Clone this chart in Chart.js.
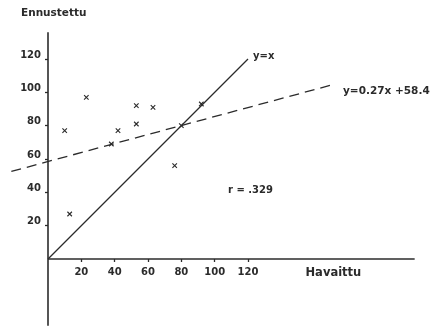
<!DOCTYPE html>
<html>
<head>
<meta charset="utf-8">
<script src="https://cdn.jsdelivr.net/npm/chart.js@4/dist/chart.umd.min.js"></script>
<style>
  html, body { margin: 0; padding: 0; background: #ffffff; }
  #wrap { width: 430px; height: 328px; position: relative; }
</style>
</head>
<body>
<div id="wrap"><canvas id="c" width="430" height="328"></canvas></div>
<script>
// ---- data ----
const havaittu   = [10, 23, 38, 42, 53, 53, 63, 80, 92, 13, 76];   // observed (x)
const ennustettu = [77, 97, 69, 77, 81, 92, 91, 80, 93, 27, 56];   // predicted (y)
const identityX  = [0, 120];                 // y = x line
const regSlope = 0.27, regIntercept = 58.48; // y = 0.27x + 58.48
const regX       = [-22, 170];
const xTicks     = [20, 40, 60, 80, 100, 120];
const yTicks     = [20, 40, 60, 80, 100, 120];
const xAxisExtent = [0, 220];
const yAxisExtent = [-40, 136];

const INK = '#2b2b2b';
const FONT = '"DejaVu Sans", sans-serif';

const points = havaittu.map((x, i) => ({ x: x, y: ennustettu[i] }));
const identity = identityX.map(x => ({ x: x, y: x }));
const reg = regX.map(x => ({ x: x, y: regSlope * x + regIntercept }));
const xAxisLine = xAxisExtent.map(x => ({ x: x, y: 0 }));
const yAxisLine = yAxisExtent.map(y => ({ x: 0, y: y }));

// annotations (text, anchored in data coordinates)
const notes = [
  { text: 'Ennustettu', x: -16.2, y: 147.6, size: 10.5 },
  { text: 'Havaittu', x: 154.5, y: -8.4, size: 11.5 },
  { text: 'y=x', x: 123, y: 121.5, size: 10 },
  { text: 'y=0.27x +58.48', x: 177, y: 100.8, size: 10.5 },
  { text: 'r = .329', x: 108, y: 41.4, size: 10 }
];

const notesPlugin = {
  id: 'notes',
  afterDatasetsDraw(chart) {
    const { ctx, scales } = chart;
    ctx.save();
    ctx.fillStyle = INK;
    ctx.textAlign = 'left';
    ctx.textBaseline = 'middle';
    notes.forEach(n => {
      ctx.font = 'bold ' + n.size + 'px ' + FONT;
      ctx.fillText(n.text, scales.x.getPixelForValue(n.x), scales.y.getPixelForValue(n.y));
    });
    ctx.restore();
  }
};

const noPad = s => { s.paddingLeft = 0; s.paddingRight = 0; s.paddingTop = 0; s.paddingBottom = 0; };

const k = 200 / 120; // px per unit (from the picture)
new Chart(document.getElementById('c'), {
  type: 'scatter',
  data: {
    datasets: [
      { data: xAxisLine, showLine: true, borderColor: INK, borderWidth: 1.6, pointRadius: 0 },
      { data: yAxisLine, showLine: true, borderColor: INK, borderWidth: 1.6, pointRadius: 0 },
      { data: identity, showLine: true, borderColor: INK, borderWidth: 1.3, pointRadius: 0 },
      { data: reg, showLine: true, borderColor: INK, borderWidth: 1.3, borderDash: [10, 6], pointRadius: 0 },
      { data: points, showLine: false, pointStyle: 'crossRot', pointRadius: 3.2,
        borderColor: INK, backgroundColor: INK, pointBorderWidth: 1.1 }
    ]
  },
  options: {
    responsive: false,
    animation: false,
    events: [],
    layout: { padding: 0, autoPadding: false },
    plugins: { legend: { display: false }, tooltip: { enabled: false } },
    scales: {
      x: {
        type: 'linear',
        position: { y: 0 },
        min: -48 / k,
        max: (430 - 48) / k,
        afterBuildTicks: s => { s.ticks = xTicks.map(v => ({ value: v })); },
        afterFit: noPad,
        border: { display: false },
        grid: { drawOnChartArea: false, drawTicks: true, tickLength: 3, color: INK, tickColor: INK, tickWidth: 1.3 },
        ticks: { color: INK, font: { family: FONT, size: 10, weight: 'bold' }, padding: 4,
                 autoSkip: false, maxRotation: 0 }
      },
      y: {
        type: 'linear',
        position: { x: 0 },
        min: -(328 - 259) / k,
        max: 259 / k,
        afterBuildTicks: s => { s.ticks = yTicks.map(v => ({ value: v })); },
        afterFit: noPad,
        border: { display: false },
        grid: { drawOnChartArea: false, drawTicks: true, tickLength: 3, color: INK, tickColor: INK, tickWidth: 1.3 },
        ticks: { color: INK, font: { family: FONT, size: 10, weight: 'bold' },
                 labelOffset: -4, autoSkip: false,
                 callback: v => v + '  ' }
      }
    }
  },
  plugins: [notesPlugin]
});
</script>
</body>
</html>
